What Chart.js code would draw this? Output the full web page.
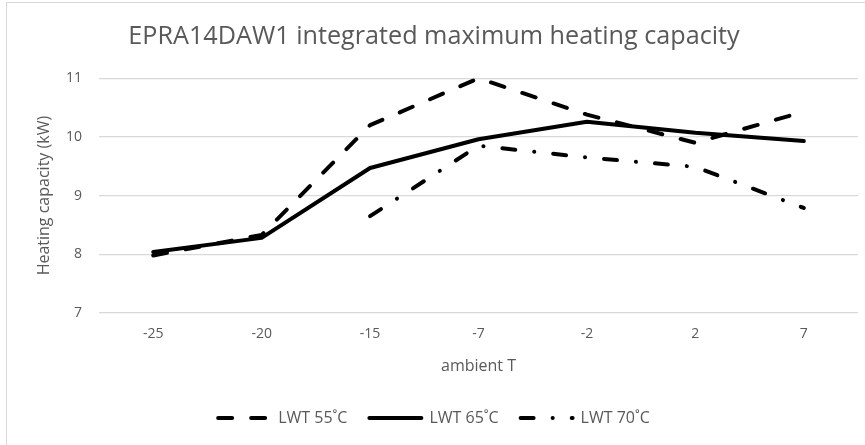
<!DOCTYPE html>
<html>
<head>
<meta charset="utf-8">
<script src="https://cdn.jsdelivr.net/npm/chart.js@4/dist/chart.umd.min.js"></script>
<style>
  html, body { margin: 0; padding: 0; background: #fff; overflow: hidden; }
  #frame { position: absolute; left: 6px; top: 2px; width: 900px; height: 500px; border: 1px solid #d9d9d9; }
  #chart { position: absolute; left: 0; top: 0; }
</style>
</head>
<body>
<div id="frame"></div>
<canvas id="chart" width="865" height="445"></canvas>
<script>
// ambient temperature categories
var ambientT = ['-25', '-20', '-15', '-7', '-2', '2', '7'];
// integrated maximum heating capacity, kW
var lwt55 = [7.98, 8.33, 10.2, 11.0, 10.38, 9.9, 10.43];
var lwt65 = [8.04, 8.28, 9.47, 9.96, 10.26, 10.07, 9.93];
var lwt70 = [null, null, 8.65, 9.85, 9.65, 9.49, 8.79];
var yTicks = [7, 8, 9, 10, 11];

var textColor = '#595959';
var fontFamily = "'Open Sans', sans-serif";

function lineSet(label, data, dash) {
    return {
        label: label,
        data: data,
        borderColor: '#000',
        backgroundColor: '#000',
        borderWidth: 4,
        borderDash: dash,
        borderCapStyle: 'round',
        borderJoinStyle: 'round',
        pointRadius: 0,
        tension: 0,
        fill: false
    };
}

var chart = new Chart(document.querySelector('#chart'), {
    type: 'line',
    data: {
        labels: ambientT,
        datasets: [
            lineSet('LWT 55˚C', lwt55, [14, 19]),
            lineSet('LWT 65˚C', lwt65, []),
            lineSet('LWT 70˚C', lwt70, [13, 19, 0.1, 19])
        ]
    },
    options: {
        responsive: false,
        animation: false,
        layout: { padding: { left: 10, right: 7, top: 0, bottom: 9 } },
        plugins: {
            title: {
                display: true,
                text: 'EPRA14DAW1 integrated maximum heating capacity',
                color: textColor,
                font: { family: fontFamily, size: 25.2, weight: 'normal' },
                padding: { top: 22, bottom: 26 }
            },
            legend: {
                position: 'bottom',
                labels: {
                    usePointStyle: true,
                    pointStyle: 'line',
                    pointStyleWidth: 52,
                    color: textColor,
                    font: { family: fontFamily, size: 16 },
                    padding: 22,
                    generateLabels: function (ch) {
                        var items = Chart.defaults.plugins.legend.labels.generateLabels(ch);
                        items.forEach(function (it) {
                            var ds = ch.data.datasets[it.datasetIndex];
                            it.lineDash = ds.borderDash;
                            it.lineWidth = ds.borderWidth;
                            it.lineCap = ds.borderCapStyle;
                            it.strokeStyle = ds.borderColor;
                            it.fillStyle = ds.borderColor;
                        });
                        return items;
                    }
                }
            },
            tooltip: { enabled: false }
        },
        scales: {
            x: {
                offset: true,
                grid: { display: false },
                border: { display: false },
                ticks: { color: textColor, font: { family: fontFamily, size: 14 }, padding: 5 },
                title: {
                    display: true,
                    text: 'ambient T',
                    color: textColor,
                    font: { family: fontFamily, size: 16 },
                    padding: { top: 9, bottom: 12 }
                }
            },
            y: {
                min: yTicks[0],
                max: yTicks[yTicks.length - 1],
                afterBuildTicks: function (scale) {
                    scale.ticks = yTicks.map(function (v) { return { value: v }; });
                },
                afterFit: function (scale) { scale.width = 89; },
                grid: { color: '#d9d9d9', lineWidth: 1.3, drawTicks: false },
                border: { display: false },
                ticks: { color: textColor, font: { family: fontFamily, size: 14 }, padding: 17 },
                title: {
                    display: true,
                    text: 'Heating capacity (kW)',
                    color: textColor,
                    font: { family: fontFamily, size: 16 },
                    padding: { top: 25, bottom: 0 }
                }
            }
        }
    }
});
</script>
</body>
</html>
